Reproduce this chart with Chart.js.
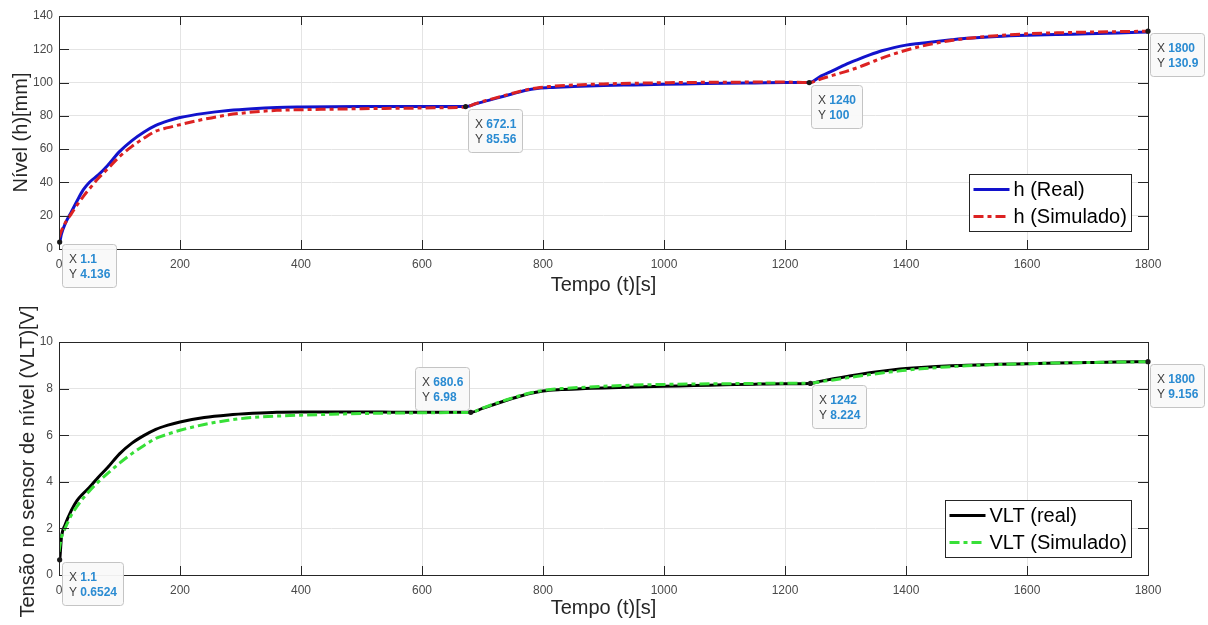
<!DOCTYPE html>
<html>
<head>
<meta charset="utf-8">
<title>Nível e tensão no sensor</title>
<script src="https://cdn.jsdelivr.net/npm/chart.js@4.4.1/dist/chart.umd.min.js"></script>
<style>
  html, body { margin: 0; padding: 0; background: #fff; }
  canvas { display: block; }
</style>
</head>
<body>
<canvas id="chartNivel" width="1208" height="300"></canvas>
<canvas id="chartTensao" width="1208" height="325"></canvas>
<script>
// ---- dados ----
// nível (h) em mm
const tempoH = [0, 1.1, 4, 10, 20, 30, 40, 50, 65, 80, 100, 120, 140, 160, 180, 200, 240, 280, 320, 360, 400, 450, 500, 550, 600, 640, 672.1,
  690, 710, 730, 750, 770, 790, 810, 850, 900, 950, 1000, 1050, 1100, 1150, 1200, 1240,
  1260, 1280, 1300, 1320, 1340, 1360, 1380, 1400, 1425, 1450, 1475, 1500, 1550, 1600, 1650, 1700, 1750, 1800];
const hReal = [3.8, 4.136, 9, 15, 22, 29, 35.5, 40, 44.5, 50, 58.5, 65, 70.2, 74.3, 77, 79, 81.5, 83.2, 84.3, 85, 85.3, 85.5, 85.6, 85.6, 85.6, 85.6, 85.56,
  87.4, 89.3, 91.3, 93.3, 95.2, 96.5, 97, 97.6, 98.2, 98.6, 99, 99.3, 99.6, 99.8, 100, 100,
  104, 107.3, 110.8, 113.8, 116.6, 119.1, 121, 122.5, 123.6, 124.7, 125.7, 126.6, 127.7, 128.4, 128.9, 129.3, 129.8, 130.4];
const hSimulado = [7, 8, 11, 15.5, 21, 26.5, 31.5, 36, 42.5, 48, 55.5, 61.5, 66.5, 70.8, 72.9, 74.7, 78, 80.6, 82.3, 83.3, 83.7, 84, 84.3, 84.5, 84.7, 84.9, 85.3,
  87.5, 89.6, 91.6, 93.6, 95.4, 96.8, 97.6, 98.5, 99.2, 99.6, 99.9, 100.1, 100.2, 100.3, 100.3, 100,
  102.3, 104.5, 106.6, 109, 111.8, 114.7, 117.2, 119.4, 121.8, 123.7, 125.3, 126.5, 128.2, 129.3, 129.9, 130.3, 130.6, 130.9];

// tensão no sensor (VLT) em V
const tempoV = [0, 1.1, 4, 10, 20, 30, 40, 50, 65, 80, 100, 120, 140, 160, 180, 200, 240, 280, 320, 360, 400, 450, 500, 550, 600, 650, 680.6,
  700, 720, 740, 760, 780, 800, 830, 870, 900, 950, 1000, 1050, 1100, 1150, 1200, 1242,
  1260, 1280, 1300, 1320, 1340, 1360, 1380, 1400, 1425, 1450, 1475, 1500, 1550, 1600, 1650, 1700, 1750, 1800];
const vltReal = [0.6, 0.6524, 1.6, 2.15, 2.75, 3.2, 3.5, 3.75, 4.2, 4.6, 5.2, 5.65, 5.98, 6.25, 6.43, 6.57, 6.76, 6.87, 6.94, 6.99, 7, 7, 7, 6.99, 6.98, 6.98, 6.98,
  7.15, 7.33, 7.5, 7.66, 7.8, 7.9, 7.96, 8, 8.03, 8.07, 8.1, 8.13, 8.16, 8.19, 8.21, 8.224,
  8.32, 8.42, 8.51, 8.6, 8.68, 8.75, 8.81, 8.86, 8.91, 8.95, 8.98, 9, 9.04, 9.07, 9.1, 9.12, 9.14, 9.156];
const vltSimulado = [1, 1.2, 1.6, 2, 2.55, 2.95, 3.3, 3.6, 4, 4.35, 4.8, 5.2, 5.55, 5.86, 6.05, 6.21, 6.46, 6.64, 6.76, 6.82, 6.86, 6.9, 6.93, 6.95, 6.96, 6.97, 6.98,
  7.16, 7.35, 7.52, 7.68, 7.82, 7.92, 8, 8.06, 8.1, 8.15, 8.18, 8.2, 8.21, 8.22, 8.23, 8.23,
  8.3, 8.37, 8.45, 8.53, 8.6, 8.67, 8.73, 8.79, 8.85, 8.9, 8.94, 8.98, 9.03, 9.07, 9.1, 9.12, 9.14, 9.15];

// ticks dos eixos
const ticksTempo = [0, 200, 400, 600, 800, 1000, 1200, 1400, 1600, 1800];
const ticksNivel = [0, 20, 40, 60, 80, 100, 120, 140];
const ticksTensao = [0, 2, 4, 6, 8, 10];

// datatips (texto como aparece na figura)
const tipsNivelX = ['1.1', '672.1', '1240', '1800'];
const tipsNivelY = ['4.136', '85.56', '100', '130.9'];
const tipsTensaoX = ['1.1', '680.6', '1242', '1800'];
const tipsTensaoY = ['0.6524', '6.98', '8.224', '9.156'];

// ---- estilo ----
const FONTE = '"Liberation Sans", Arial, Helvetica, sans-serif';
const DASH_PONTO = [10, 4, 4, 4];

function pontos(xs, ys) {
  return xs.map((x, i) => ({ x: x, y: ys[i] }));
}

// caixa, ticks internos, título do eixo y, legenda e datatips (estilo MATLAB)
const moldura = {
  id: 'moldura',
  afterDatasetsDraw(chart, args, opts) {
    const ctx = chart.ctx;
    const a = chart.chartArea;
    const sx = chart.scales.x, sy = chart.scales.y;
    ctx.save();

    // caixa do eixo
    ctx.strokeStyle = '#262626';
    ctx.lineWidth = 1;
    ctx.strokeRect(Math.round(a.left) + 0.5, Math.round(a.top) + 0.5,
      Math.round(a.right - a.left), Math.round(a.bottom - a.top));

    // ticks para dentro
    ctx.beginPath();
    sx.ticks.forEach(t => {
      const px = Math.round(sx.getPixelForValue(t.value)) + 0.5;
      ctx.moveTo(px, a.top); ctx.lineTo(px, a.top + 9);
      ctx.moveTo(px, a.bottom); ctx.lineTo(px, a.bottom - 9);
    });
    sy.ticks.forEach(t => {
      const py = Math.round(sy.getPixelForValue(t.value)) + 0.5;
      ctx.moveTo(a.left, py); ctx.lineTo(a.left + 10, py);
      ctx.moveTo(a.right, py); ctx.lineTo(a.right - 10, py);
    });
    ctx.stroke();

    // título do eixo y (desenhado à mão para não ser comprimido)
    ctx.save();
    ctx.translate(opts.tituloX, (a.top + a.bottom) / 2 + opts.tituloDy);
    ctx.rotate(-Math.PI / 2);
    ctx.font = '20px ' + FONTE;
    ctx.fillStyle = '#262626';
    ctx.textAlign = 'center';
    ctx.textBaseline = 'alphabetic';
    ctx.fillText(opts.tituloY, 0, 0);
    ctx.restore();

    // legenda
    const ds = chart.data.datasets;
    ctx.font = '20px ' + FONTE;
    let wTexto = 0;
    ds.forEach(d => { wTexto = Math.max(wTexto, ctx.measureText(d.label).width); });
    const lw = Math.round(4 + 36 + 4 + wTexto + 5);
    const lh = 57;
    const lx = Math.round(a.right - 17 - lw) + 0.5;
    const ly = Math.round(a.bottom - 18 - lh) + 0.5;
    ctx.fillStyle = '#ffffff';
    ctx.fillRect(lx, ly, lw, lh);
    ctx.strokeStyle = '#262626';
    ctx.strokeRect(lx, ly, lw, lh);
    ds.forEach((d, i) => {
      const cy = ly + 15 + i * 27;
      ctx.beginPath();
      ctx.setLineDash(d.borderDash || []);
      ctx.strokeStyle = d.borderColor;
      ctx.lineWidth = d.borderWidth;
      ctx.moveTo(lx + 4, cy);
      ctx.lineTo(lx + 40, cy);
      ctx.stroke();
      ctx.setLineDash([]);
      ctx.fillStyle = '#000000';
      ctx.textAlign = 'left';
      ctx.textBaseline = 'middle';
      ctx.fillText(d.label, lx + 44, cy + 1);
    });

    // datatips
    ctx.lineWidth = 1;
    opts.tipsX.forEach((xt, i) => {
      const yt = opts.tipsY[i];
      const px = sx.getPixelForValue(parseFloat(xt));
      const py = sy.getPixelForValue(parseFloat(yt));
      ctx.font = '12px ' + FONTE;
      const wX = ctx.measureText('X ').width;
      ctx.font = 'bold 12px ' + FONTE;
      const wv = Math.max(ctx.measureText(xt).width, ctx.measureText(yt).width);
      const w = Math.round(7 + wX + wv + 6), h = 43;
      const bx = Math.round(opts.lados[i] === 'tl' ? px - 2 - w : px + 2) + 0.5;
      const by = Math.round(opts.lados[i] === 'tl' ? py - 2 - h : py + 2) + 0.5;
      ctx.beginPath();
      ctx.roundRect(bx, by, w, h, 3);
      ctx.fillStyle = 'rgba(249,249,249,0.95)';
      ctx.fill();
      ctx.strokeStyle = '#c4c4c4';
      ctx.stroke();
      ctx.textAlign = 'left';
      ctx.textBaseline = 'middle';
      [['X ', xt], ['Y ', yt]].forEach((par, k) => {
        const ty = by + 15 + k * 15;
        ctx.font = '12px ' + FONTE;
        ctx.fillStyle = '#404040';
        ctx.fillText(par[0], bx + 6.5, ty);
        ctx.font = 'bold 12px ' + FONTE;
        ctx.fillStyle = '#2a8bd2';
        ctx.fillText(par[1], bx + 6.5 + wX, ty);
      });
      // ponto marcado
      ctx.beginPath();
      ctx.arc(px, py, 2.6, 0, 2 * Math.PI);
      ctx.fillStyle = '#1a1a1a';
      ctx.fill();
    });

    ctx.restore();
  }
};

function criaGrafico(id, datasets, ticksY, maxY, cfg) {
  const ctx = document.getElementById(id).getContext('2d');
  return new Chart(ctx, {
    type: 'line',
    data: { datasets: datasets },
    plugins: [moldura],
    options: {
      responsive: false,
      animation: false,
      events: [],
      layout: { padding: { top: cfg.topo, right: 60, left: 0, bottom: 0 } },
      elements: { point: { radius: 0 }, line: { cubicInterpolationMode: 'monotone' } },
      plugins: {
        legend: { display: false },
        tooltip: { enabled: false },
        moldura: cfg.moldura
      },
      scales: {
        x: {
          type: 'linear',
          min: 0,
          max: 1800,
          afterBuildTicks: s => { s.ticks = ticksTempo.map(v => ({ value: v })); },
          afterFit: s => { s.height = cfg.alturaX; },
          grid: { color: '#e4e4e4', drawTicks: false },
          border: { display: false },
          ticks: {
            font: { family: FONTE, size: 12 }, color: '#4a4a4a', padding: 8, maxRotation: 0,
            callback: v => String(v)
          },
          title: {
            display: true,
            text: 'Tempo (t)[s]',
            font: { family: FONTE, size: 20 },
            color: '#262626',
            padding: { top: 0, bottom: cfg.padTituloX }
          }
        },
        y: {
          min: 0,
          max: maxY,
          afterBuildTicks: s => { s.ticks = ticksY.map(v => ({ value: v })); },
          afterFit: s => { s.width = 59; },
          grid: { color: '#e4e4e4', drawTicks: false },
          border: { display: false },
          ticks: { font: { family: FONTE, size: 12 }, color: '#4a4a4a', padding: 6, callback: v => String(v) }
        }
      }
    }
  });
}

// gráfico do nível
criaGrafico('chartNivel', [
  { label: 'h (Real)', data: pontos(tempoH, hReal), borderColor: '#1212cc', borderWidth: 3, order: 2 },
  { label: 'h (Simulado)', data: pontos(tempoH, hSimulado), borderColor: '#dc2222', borderWidth: 3, borderDash: DASH_PONTO, order: 1 }
], ticksNivel, 140, {
  topo: 16, alturaX: 51, padTituloX: 3,
  moldura: { tituloY: 'Nível (h)[mm]', tituloX: 27, tituloDy: 0, tipsX: tipsNivelX, tipsY: tipsNivelY, lados: ['br', 'br', 'br', 'br'] }
});

// gráfico da tensão
criaGrafico('chartTensao', [
  { label: 'VLT (real)', data: pontos(tempoV, vltReal), borderColor: '#000000', borderWidth: 3, order: 2 },
  { label: 'VLT (Simulado)', data: pontos(tempoV, vltSimulado), borderColor: '#38e038', borderWidth: 3, borderDash: DASH_PONTO, order: 1 }
], ticksTensao, 10, {
  topo: 42, alturaX: 50, padTituloX: 5,
  moldura: { tituloY: 'Tensão no sensor de nível (VLT)[V]', tituloX: 34, tituloDy: 3, tipsX: tipsTensaoX, tipsY: tipsTensaoY, lados: ['br', 'tl', 'br', 'br'] }
});
</script>
</body>
</html>
